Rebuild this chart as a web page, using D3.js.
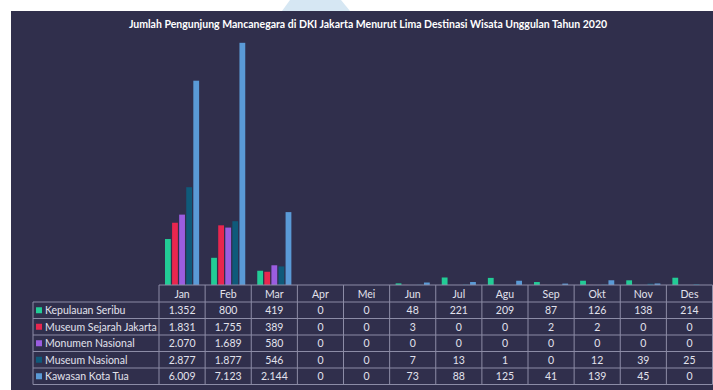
<!DOCTYPE html>
<html><head><meta charset="utf-8">
<script src="https://cdn.jsdelivr.net/npm/d3@7"></script>
<style>html,body{margin:0;padding:0;background:#fff;}svg{display:block;}</style>
</head><body>
<svg id="c" width="713" height="390"></svg>
<script>
const title = "Jumlah Pengunjung Mancanegara di DKI Jakarta Menurut Lima Destinasi Wisata Unggulan Tahun 2020";
const months = ["Jan","Feb","Mar","Apr","Mei","Jun","Jul","Agu","Sep","Okt","Nov","Des"];
const seriesNames = ["Kepulauan Seribu","Museum Sejarah Jakarta","Monumen Nasional","Museum Nasional","Kawasan Kota Tua"];
const kepulauanSeribu   = [1352, 800, 419, 0, 0, 48, 221, 209, 87, 126, 138, 214];
const museumSejarah     = [1831, 1755, 389, 0, 0, 3, 0, 0, 2, 2, 0, 0];
const monumenNasional   = [2070, 1689, 580, 0, 0, 0, 0, 0, 0, 0, 0, 0];
const museumNasional    = [2877, 1877, 546, 0, 0, 7, 13, 1, 0, 12, 39, 25];
const kawasanKotaTua    = [6009, 7123, 2144, 0, 0, 73, 88, 125, 41, 139, 45, 0];
const seriesColors = ["#22cc96","#e8264f","#9b5de0","#0f5a7a","#5a9ad6"];

const seriesValues = [kepulauanSeribu, museumSejarah, monumenNasional, museumNasional, kawasanKotaTua];
const series = seriesNames.map((n,i)=>({name:n, values:seriesValues[i], color:seriesColors[i]}));

const svg = d3.select("#c");
const W = 713, H = 390;
const bg = "#302f4c", lineCol = "#8c8ca6", textCol = "#e2e2ec";
const font = "Lato, 'Open Sans', sans-serif";

// watermark shape in white margin
svg.append("path").attr("d","M290,0 L341,0 L350,11 L282,11 Z").attr("fill","#d6e7f3");
// panel
svg.append("rect").attr("x",11).attr("y",11).attr("width",W-11).attr("height",H-11).attr("fill",bg);

svg.append("text").attr("x",368).attr("y",28).attr("text-anchor","middle")
  .attr("fill","#ffffff").attr("font-family",font).attr("font-weight","bold")
  .attr("font-size","10.5px").text(title);

const plotLeft = 159, plotRight = 712.5, baseY = 285;
const x0 = d3.scaleBand().domain(months).range([plotLeft, plotRight]).padding(0);
const x1 = d3.scaleBand().domain(seriesNames).range([6, x0.bandwidth()-6]).paddingInner(0.18);
const y = d3.scaleLinear().domain([0, 8000]).range([baseY, 13]);

const g = svg.append("g");
series.forEach(s=>{
  g.append("g").selectAll("rect").data(s.values).join("rect")
    .attr("x",(d,i)=>x0(months[i]) + x1(s.name))
    .attr("y",d=>y(d))
    .attr("width",x1.bandwidth())
    .attr("height",d=>baseY - y(d))
    .attr("fill",s.color);
});

// data table
const loc = d3.formatLocale({decimal:",", thousands:".", grouping:[3], currency:["Rp",""]});
const fmt = loc.format(",");
const headerTop = 285, headerBot = 302, rowH = 16.5;
const legendLeft = 33;
const t = svg.append("g").attr("font-family",font).attr("font-size","10.5px").attr("fill",textCol);
const rowY = i => headerBot + i*rowH;
const tableBottom = rowY(series.length);

const lines = svg.append("g").attr("stroke",lineCol).attr("stroke-width",1).attr("fill","none");
lines.append("line").attr("x1",plotLeft).attr("x2",plotRight).attr("y1",headerTop).attr("y2",headerTop);
for (let i=0;i<=series.length;i++){
  lines.append("line").attr("x1",legendLeft).attr("x2",plotRight).attr("y1",rowY(i)).attr("y2",rowY(i));
}
lines.append("line").attr("x1",legendLeft).attr("x2",legendLeft).attr("y1",headerBot).attr("y2",tableBottom);
months.forEach(m=>{
  const xx = x0(m);
  lines.append("line").attr("x1",xx).attr("x2",xx).attr("y1",headerTop).attr("y2",tableBottom);
});
lines.append("line").attr("x1",plotRight).attr("x2",plotRight).attr("y1",headerTop).attr("y2",tableBottom);

t.selectAll("text.h").data(months).join("text").attr("class","h")
  .attr("x",m=>x0(m)+x0.bandwidth()/2).attr("y",(headerTop+headerBot)/2+4)
  .attr("text-anchor","middle").text(m=>m);

series.forEach((s,i)=>{
  const cy = rowY(i) + rowH/2;
  svg.append("rect").attr("x",36).attr("y",cy-3).attr("width",6).attr("height",6).attr("fill",s.color);
  t.append("text").attr("x",45).attr("y",cy+4).text(s.name);
  t.append("g").selectAll("text").data(s.values).join("text")
    .attr("x",(d,j)=>x0(months[j])+x0.bandwidth()/2).attr("y",cy+4)
    .attr("text-anchor","middle").text(d=>fmt(d));
});
</script>
</body></html>
